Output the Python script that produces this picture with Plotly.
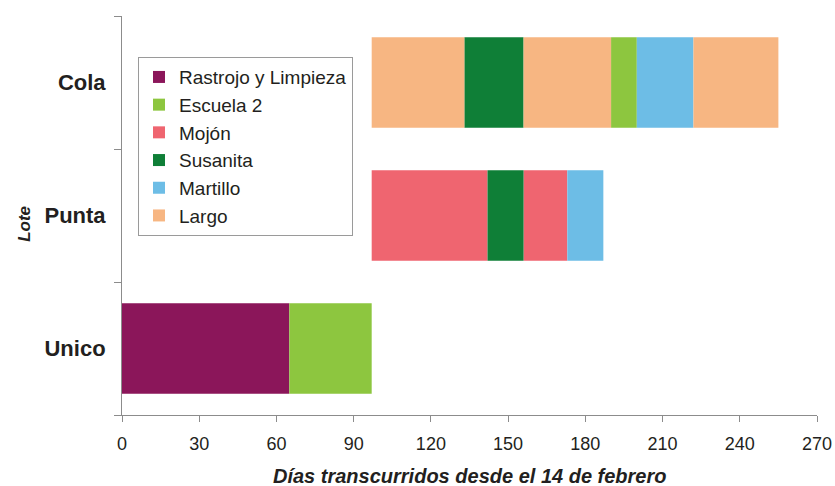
import plotly.graph_objects as go

# Activities in legend order, with their colours
actividades = ["Rastrojo y Limpieza", "Escuela 2", "Mojón", "Susanita", "Martillo", "Largo"]
colores = ["#8B165A", "#8DC63F", "#EF6570", "#0F7F37", "#6DBDE6", "#F7B682"]

# Lots shown on the vertical axis (bottom to top)
lotes = ["Unico", "Punta", "Cola"]

# Each grazing period: lot, activity, start day and end day
tramo_lote = ["Unico", "Unico",
              "Punta", "Punta", "Punta", "Punta",
              "Cola", "Cola", "Cola", "Cola", "Cola", "Cola"]
tramo_actividad = ["Rastrojo y Limpieza", "Escuela 2",
                   "Mojón", "Susanita", "Mojón", "Martillo",
                   "Largo", "Susanita", "Largo", "Escuela 2", "Martillo", "Largo"]
tramo_inicio = [0, 65, 97, 142, 156, 173, 97, 133, 156, 190, 200, 222]
tramo_fin = [65, 97, 142, 156, 173, 187, 133, 156, 190, 200, 222, 255]

# X axis ticks
x_ticks = [0, 30, 60, 90, 120, 150, 180, 210, 240, 270]

FONT = "Liberation Sans, Arial, sans-serif"
TXT = "#231F20"
AXIS = "#8C8C8C"

fig = go.Figure()
for act, col in zip(actividades, colores):
    idx = [i for i, a in enumerate(tramo_actividad) if a == act]
    fig.add_trace(go.Bar(
        name=act,
        orientation="h",
        y=[tramo_lote[i] for i in idx],
        base=[tramo_inicio[i] for i in idx],
        x=[tramo_fin[i] - tramo_inicio[i] for i in idx],
        marker=dict(color=col, line=dict(width=0)),
    ))

fig.update_layout(
    width=835, height=486,
    margin=dict(l=122, r=18, t=16, b=71, autoexpand=False),
    paper_bgcolor="white", plot_bgcolor="white",
    barmode="overlay",
    bargap=0.32,
    font=dict(family=FONT, color=TXT),
    showlegend=True,
    legend=dict(
        x=0.023, y=0.897, xanchor="left", yanchor="top",
        bgcolor="white", bordercolor="#9A9A9A", borderwidth=1,
        font=dict(size=19, family=FONT, color=TXT),
        traceorder="normal",
        itemwidth=30,
    ),
    xaxis=dict(
        range=[0, 270], tickvals=x_ticks,
        ticks="outside", ticklen=6, tickcolor=AXIS,
        showline=True, linecolor=AXIS, linewidth=1,
        showgrid=False, zeroline=False, automargin=False,
        tickfont=dict(size=18, family=FONT, color=TXT),
        ticklabelstandoff=6,
    ),
    yaxis=dict(
        type="category", categoryorder="array", categoryarray=lotes,
        range=[-0.5, 2.5],
        tickson="boundaries",
        ticks="outside", ticklen=7, tickcolor=AXIS,
        showline=True, linecolor=AXIS, linewidth=1,
        showgrid=False, zeroline=False, automargin=False,
        tickfont=dict(size=22, family=FONT, color=TXT, weight="bold"),
        ticklabelstandoff=11,
    ),
    annotations=[
        dict(text="<b><i>Días transcurridos desde el 14 de febrero</i></b>",
             xref="paper", yref="paper", x=0.5, y=-0.153,
             xanchor="center", yanchor="middle", showarrow=False,
             font=dict(size=20, family=FONT, color=TXT)),
        dict(text="<b><i>Lote</i></b>",
             xref="paper", yref="paper", x=-0.1396, y=0.479,
             xanchor="center", yanchor="middle", showarrow=False,
             textangle=-90,
             font=dict(size=17, family=FONT, color=TXT)),
    ],
)

fig.write_html("out.html")
